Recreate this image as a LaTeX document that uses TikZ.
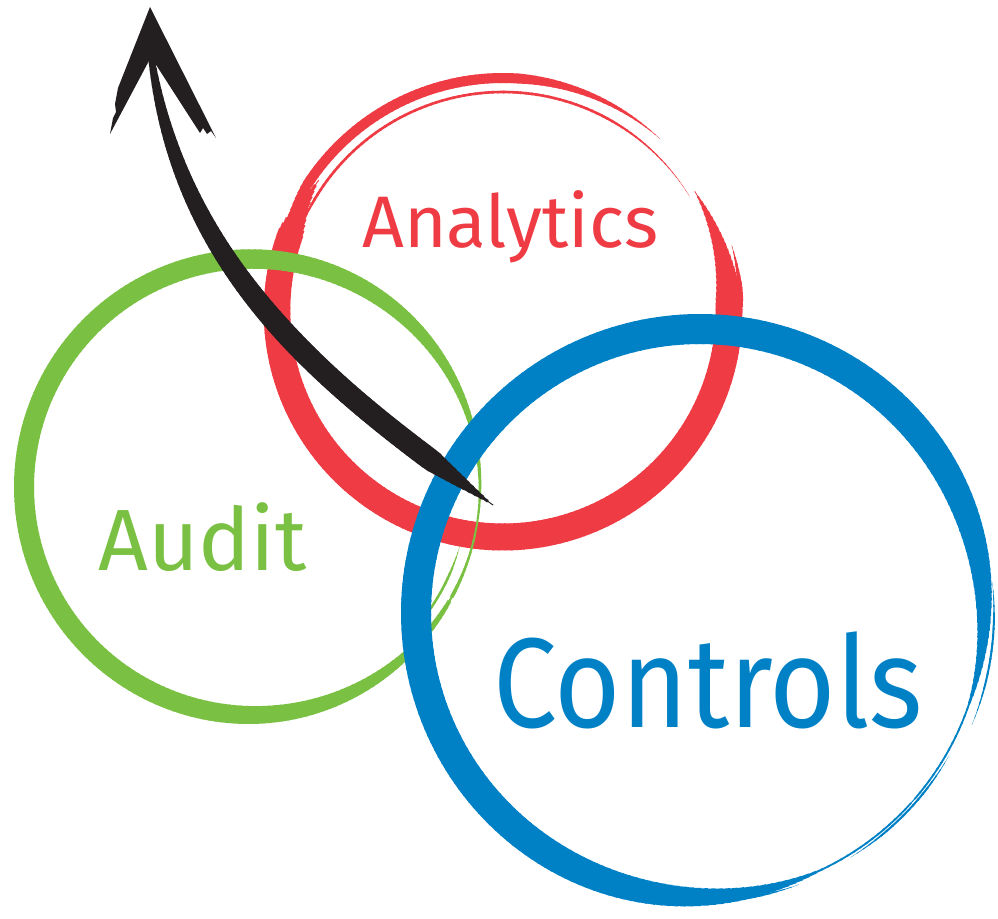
\documentclass[tikz,border=0pt]{standalone}
\usepackage{fontspec}
\setmainfont{Fira Sans}
\usetikzlibrary{calc}
\definecolor{redink}{HTML}{EF3B43}
\definecolor{greenink}{HTML}{7AC143}
\definecolor{blueink}{HTML}{0081C6}
\definecolor{arrowink}{HTML}{231F20}
\tikzset{lbl/.style={inner sep=0pt, anchor=base west}}
% brush arc: #1 colour, #2 cx, #3 cy, #4 radius, #5 start, #6 end, #7 wmax, #8 wmin, #9 angle of thinnest
\def\kexp{4}\def\tapA{1}\def\tapB{1}\def\wfloor{0.2}
\newcommand\brush[9]{%
  \pgfmathtruncatemacro\bsteps{abs(#6-#5)/1.5}%
  \pgfmathsetmacro\bstep{(#6-#5)/(\bsteps+1)}%
  \foreach \i in {0,...,\bsteps}{%
    \pgfmathsetmacro\ta{#5+\bstep*\i}%
    \pgfmathsetmacro\tb{\ta+\bstep+0.4}%
    \pgfmathsetmacro\tmid{(\ta+\tb)/2}%
    \pgfmathsetmacro\tp{min(1,(\tmid-#5)/\tapA,(#6-\tmid)/\tapB)}%
    \pgfmathsetmacro\bw{max(0.2,max(\wfloor,#8+(#7-#8)*(1-((1.0001+cos(\tmid-#9))/2)^\kexp))*\tp)}%
    \draw[#1,line width=\bw pt] ($(#2,#3)+(\ta:#4)$) arc[start angle=\ta,end angle=\tb,radius=#4];
  }}
\begin{document}
\begin{tikzpicture}[x=1pt,y=-1pt]
\useasboundingbox (0,0) rectangle (998,918);
% ---------- red ring (Analytics)
\def\kexp{4}\def\tapA{30}\def\tapB{15}
\brush{redink}{503}{311}{226}{-32}{215}{27}{20}{270}
\def\tapA{15}\def\tapB{38}
\brush{redink}{503}{311}{233}{198}{312}{10}{10}{0}
\def\tapA{10}\def\tapB{30}
\brush{redink}{503}{311}{219}{200}{328}{2.6}{2.6}{0}
\def\tapA{10}\def\tapB{6}
\brush{redink}{503}{311}{238}{-16}{3}{5}{5}{0}
% ---------- green ring (Audit)
\def\kexp{4}\def\tapA{1}\def\tapB{1}
\brush{greenink}{252}{487}{228}{30}{390}{20}{2}{10}
\def\tapA{8}\def\tapB{10}
\brush{greenink}{252}{487}{216}{16}{44}{2.5}{2.5}{0}
% ---------- blue ring (Controls)
\def\kexp{6}\def\tapA{1}\def\tapB{1}\def\wfloor{1.8}
\brush{blueink}{700}{613}{284}{42}{402}{30}{-6}{42}
\def\wfloor{0.2}
\def\tapA{8}\def\tapB{8}
\brush{blueink}{700}{613}{294}{-6}{22}{2}{2}{0}
\brush{blueink}{700}{613}{289}{70}{98}{2}{2}{0}
\brush{blueink}{700}{613}{287}{30}{58}{2}{2}{0}
% ---------- labels
\node[lbl, text=redink, font=\fontsize{73}{80}\selectfont] (analytics) at (362,247) {Analytics};
\node[lbl, text=greenink, font=\fontsize{87}{95}\selectfont] (audit) at (98,570) {Audit};
\node[lbl, text=blueink, font=\fontsize{114}{120}\selectfont] (controls) at (493,727) {\scalebox{1}[1.12]{Controls}};
% ---------- arrow
\coordinate (tail) at (493,505);
\coordinate (ca) at (330,389);
\coordinate (cb) at (181,273);
\coordinate (neck) at (151,55);
\foreach \i in {0,...,89}{%
  \pgfmathsetmacro\pa{\i/90}%
  \pgfmathsetmacro\pb{(\i+1)/90}%
  \pgfmathsetmacro\pmid{(\pa+\pb)/2}%
  \pgfmathsetmacro\aw{max(0.5,min(22*\pmid/0.13,22-16*(max(0,(\pmid-0.4)/0.6))^2))}%
  \path (tail) .. controls (ca) and (cb) .. (neck) coordinate[pos=\pa] (sa) coordinate[pos=\pb] (sb);
  \draw[arrowink, line width=\aw pt, line cap=round] (sa) -- (sb);
}
\coordinate (tip) at (150,7);
\fill[arrowink] (tip) -- (216,138) -- (211,131) -- (207,134) -- (203,128) -- (200,133)
  -- (151,57) -- (110,134) -- (113,118) -- (116,112) -- (115,104) -- (118,88) -- cycle;
\end{tikzpicture}
\end{document}
